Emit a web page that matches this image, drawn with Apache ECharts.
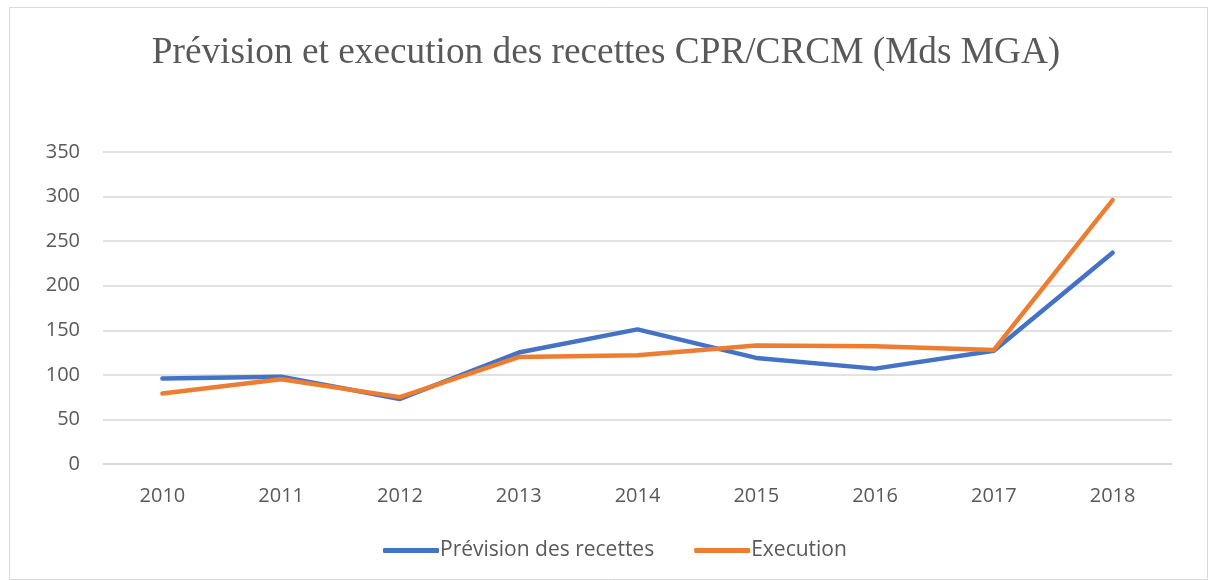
<!DOCTYPE html>
<html><head><meta charset="utf-8">
<script src="https://cdn.jsdelivr.net/npm/echarts@6/dist/echarts.min.js"></script>
<style>html,body{margin:0;padding:0;background:#fff}#c{width:1212px;height:580px}</style>
</head><body><div id="c"></div>
<script>
const categories = ['2010','2011','2012','2013','2014','2015','2016','2017','2018'];
const prevision = [96, 98, 73, 125, 151, 119, 107, 127, 237];
const execution = [79, 95, 75, 120, 122, 133, 132, 128, 296];
const seriesNames = ['Prévision des recettes', 'Execution'];
const titleText = 'Prévision et execution des recettes CPR/CRCM (Mds MGA)';

const chart = echarts.init(document.getElementById('c'), null, {renderer: 'canvas'});
chart.setOption({
  animation: false,
  backgroundColor: '#fff',
  graphic: [{type: 'rect', shape: {x: 9.5, y: 7.5, width: 1198, height: 572}, style: {fill: 'none', stroke: '#d9d9d9', lineWidth: 1}, silent: true}],
  title: {text: titleText, left: 'center', top: 30, textStyle: {fontFamily: 'Liberation Serif', fontWeight: 'normal', fontSize: 37.3, color: '#595959'}},
  legend: {top: 535, left: 378, itemWidth: 56, itemHeight: 5, itemGap: 40, icon: 'roundRect',
    textStyle: {fontFamily: 'Open Sans, Noto Sans, sans-serif', fontSize: 21, color: '#595959', padding: [0,0,0,-4]},
    data: seriesNames},
  grid: {left: 103, right: 40, top: 152, bottom: 116, containLabel: false},
  xAxis: {type: 'category', data: categories, boundaryGap: true,
    axisLine: {lineStyle: {color: '#d9d9d9', width: 1.5}}, axisTick: {show: false},
    axisLabel: {fontFamily: 'Open Sans, Noto Sans, sans-serif', fontSize: 20, color: '#595959', margin: 22}},
  yAxis: {type: 'value', min: 0, max: 350, interval: 50,
    axisLine: {show: false}, axisTick: {show: false},
    splitLine: {lineStyle: {color: '#d9d9d9', width: 1.5}},
    axisLabel: {fontFamily: 'Open Sans, Noto Sans, sans-serif', fontSize: 20, color: '#595959', margin: 23}},
  series: [
    {name: seriesNames[0], type: 'line', data: prevision, symbol: 'none', lineStyle: {color: '#4472C4', width: 4.5, cap: 'round', join: 'round'}, itemStyle: {color: '#4472C4'}},
    {name: seriesNames[1], type: 'line', data: execution, symbol: 'none', lineStyle: {color: '#ED7D31', width: 4.5, cap: 'round', join: 'round'}, itemStyle: {color: '#ED7D31'}}
  ]
});
</script></body></html>
